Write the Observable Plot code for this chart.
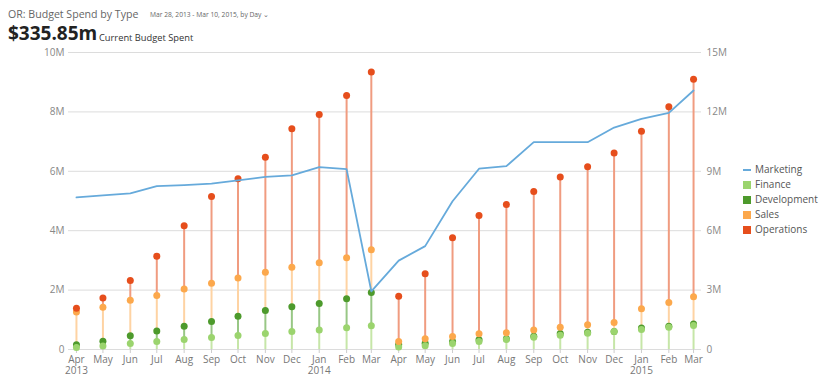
<!DOCTYPE html>
<html><head><meta charset="utf-8">
<script src="https://cdn.jsdelivr.net/npm/d3@7"></script>
<script src="https://cdn.jsdelivr.net/npm/@observablehq/plot@0.6"></script>
<style>
body{margin:0;background:#fff;font-family:"Open Sans",sans-serif;}
#wrap{position:relative;width:820px;height:383px;overflow:hidden;}
#title{position:absolute;left:8px;top:7px;font-size:10.6px;color:#666;white-space:nowrap;}
#range{position:absolute;left:150px;top:10px;font-size:6.7px;color:#666;white-space:nowrap;}
#big{position:absolute;left:8px;top:20px;font-size:19px;font-weight:700;color:#222;white-space:nowrap;}
#sub{position:absolute;left:99px;top:31px;font-size:9.3px;color:#333;white-space:nowrap;}
#chart{position:absolute;left:0;top:46px;}
#legend{position:absolute;left:743px;top:162px;font-size:10px;color:#555;}
#legend div{height:15px;line-height:15px;display:flex;align-items:center;white-space:nowrap;}
#legend span.sw{display:inline-block;width:8px;height:8px;margin-right:4px;}
#legend span.ln{display:inline-block;width:8px;height:2px;margin-right:4px;}
</style></head>
<body>
<div id="wrap">
  <div id="title">OR: Budget Spend by Type</div>
  <div id="range">Mar 28, 2013 - Mar 10, 2015, by Day &#8964;</div>
  <div id="big">$335.85m</div>
  <div id="sub">Current Budget Spent</div>
  <div id="chart"></div>
  <div id="legend"></div>
</div>
<script>
const months = ["2013-04-01","2013-05-01","2013-06-01","2013-07-01","2013-08-01","2013-09-01","2013-10-01","2013-11-01","2013-12-01","2014-01-01","2014-02-01","2014-03-01","2014-04-01","2014-05-01","2014-06-01","2014-07-01","2014-08-01","2014-09-01","2014-10-01","2014-11-01","2014-12-01","2015-01-01","2015-02-01","2015-03-01"];
const yearTicks = ["2013-04-01","2014-01-01","2015-01-01"];
// Marketing in millions (right axis)
const marketing = [7.68,7.78,7.89,8.25,8.30,8.38,8.54,8.72,8.79,9.21,9.11,2.94,4.49,5.22,7.49,9.13,9.26,10.47,10.47,10.47,11.21,11.65,11.95,13.08];
// Others in millions (left axis)
const finance = [0.07,0.12,0.20,0.27,0.34,0.40,0.47,0.54,0.61,0.66,0.73,0.80,0.08,0.13,0.20,0.27,0.34,0.41,0.48,0.55,0.61,0.67,0.75,0.81];
const development = [0.16,0.28,0.46,0.62,0.78,0.94,1.12,1.31,1.44,1.55,1.71,1.92,0.17,0.21,0.27,0.33,0.36,0.45,0.54,0.58,0.61,0.72,0.78,0.86];
const sales = [1.26,1.42,1.66,1.82,2.04,2.23,2.41,2.60,2.77,2.92,3.09,3.36,0.27,0.36,0.44,0.53,0.56,0.66,0.75,0.83,0.91,1.37,1.58,1.78];
const operations = [1.39,1.73,2.32,3.14,4.17,5.15,5.75,6.47,7.43,7.91,8.55,9.34,1.79,2.55,3.76,4.51,4.88,5.32,5.81,6.15,6.62,7.35,8.17,9.10];
const leftTicks = [0,2,4,6,8,10];
const seriesNames = ["Marketing","Finance","Development","Sales","Operations"];
const seriesColors = ["#66aadb","#9bd46e","#4d9a2c","#fca84c","#e64e1c"];
const ruleColors = ["#c6e6a8","#98c785","#fed3a3","#f09c80"];

const parse = d3.utcParse("%Y-%m-%d");
const rows = months.map((m,i)=>({date:parse(m), mkt:marketing[i], fin:finance[i], dev:development[i], sales:sales[i], ops:operations[i]}));
const monthDates = rows.map(r=>r.date);
const fmtM = d3.utcFormat("%b"), fmtY = d3.utcFormat("%Y");
const mFmt = v => v===0 ? "0" : (+v.toFixed(2)) + "M";

const plot = Plot.plot({
  width: 820, height: 337,
  marginLeft: 68, marginRight: 119, marginTop: 6, marginBottom: 34,
  style: {fontFamily: '"Open Sans", sans-serif', fontSize: "10px", background: "transparent"},
  x: {type: "utc", domain: [parse("2013-03-23"), parse("2015-03-10")]},
  y: {domain: [0, 10]},
  marks: [
    Plot.gridY(leftTicks, {stroke: "#dcdcdc", strokeOpacity: 1, strokeWidth: 1}),
    Plot.axisY({anchor: "left", ticks: leftTicks, tickFormat: mFmt, tickSize: 0, tickPadding: 4, color: "#888", label: null}),
    Plot.axisY({anchor: "right", ticks: leftTicks, tickFormat: d => mFmt(d*1.5), tickSize: 0, tickPadding: 5, color: "#888", label: null}),
    Plot.axisX({ticks: monthDates, tickFormat: d => fmtM(d), tickSize: 4, tickPadding: 2.5, stroke: "#ccc", fill: "#777", label: null}),
    Plot.axisX({ticks: yearTicks.map(parse), tickFormat: d => fmtY(d), tickSize: 0, tickPadding: 17.5, fill: "#777", label: null}),
    Plot.ruleX(rows, {x: "date", y1: 0, y2: "fin", stroke: ruleColors[0], strokeWidth: 2}),
    Plot.ruleX(rows, {x: "date", y1: "fin", y2: "dev", stroke: ruleColors[1], strokeWidth: 2}),
    Plot.ruleX(rows, {x: "date", y1: "dev", y2: "sales", stroke: ruleColors[2], strokeWidth: 2}),
    Plot.ruleX(rows, {x: "date", y1: "sales", y2: "ops", stroke: ruleColors[3], strokeWidth: 2}),
    Plot.dot(rows, {x: "date", y: "dev", r: 3.5, fill: seriesColors[2]}),
    Plot.dot(rows, {x: "date", y: "fin", r: 3.5, fill: seriesColors[1]}),
    Plot.dot(rows, {x: "date", y: "sales", r: 3.5, fill: seriesColors[3]}),
    Plot.dot(rows, {x: "date", y: "ops", r: 3.5, fill: seriesColors[4]}),
    Plot.line(rows, {x: "date", y: d => d.mkt/1.5, stroke: seriesColors[0], strokeWidth: 1.8})
  ]
});
document.getElementById("chart").appendChild(plot);

const lg = document.getElementById("legend");
seriesNames.forEach((n,i)=>{
  const row = document.createElement("div");
  const sw = document.createElement("span");
  sw.className = i===0 ? "ln" : "sw";
  sw.style.background = seriesColors[i];
  row.appendChild(sw);
  row.appendChild(document.createTextNode(n));
  lg.appendChild(row);
});
</script>
</body></html>
